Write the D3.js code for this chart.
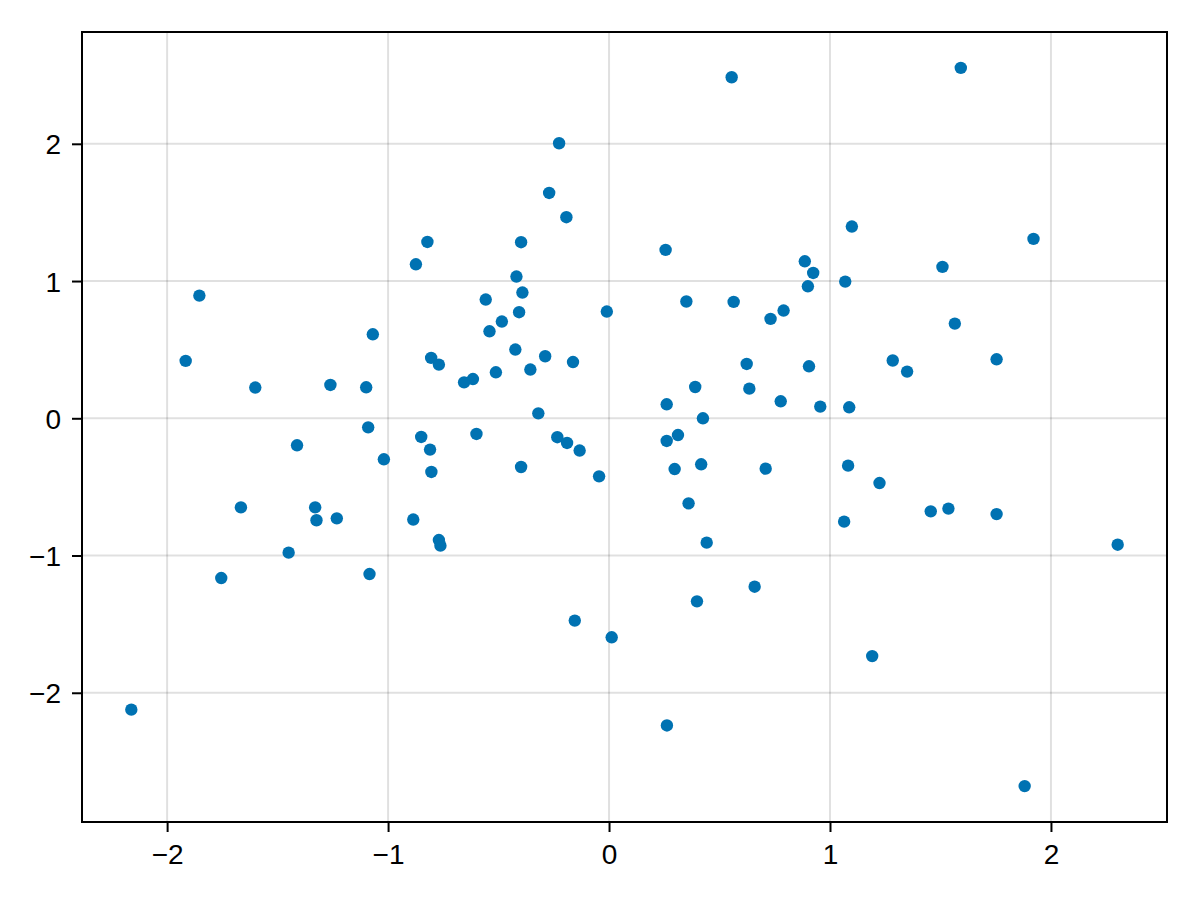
<!DOCTYPE html>
<html>
<head>
<meta charset="utf-8">
<script src="https://cdn.jsdelivr.net/npm/d3@7"></script>
<style>
  html, body { margin: 0; padding: 0; background: #ffffff; }
  svg { display: block; }
</style>
</head>
<body>
<svg id="chart" width="1200" height="900"></svg>
<script>
// ---- data ----
const xValues = [
  -0.822, -0.874, -1.854, -1.069, -1.916, -0.805, -0.770, -1.601, -1.261, -1.099,
  -1.090, 0.555, -0.226, -0.271, -0.193, -0.398, 0.256, 0.886, -0.419, 0.900,
  -0.558, -0.392, 0.350, 0.564, -0.407, -0.010, -0.485, -0.541, 0.731, 0.790,
  -0.424, -0.289, -0.656, -0.616, -0.512, -0.356, -0.163, 0.623, 0.905, -0.320,
  0.261, 0.390, 0.635, 0.777, 0.425, 1.592, 1.099, 1.921, 1.509, 0.924,
  1.069, 1.565, 1.284, 1.349, 1.754, 0.956, 1.087, -1.412, -0.850, -0.810,
  -1.019, -0.804, -1.666, -1.330, -1.324, -1.232, -0.886, -0.770, -0.763, -1.450,
  -1.755, -1.084, -2.162, -0.600, -0.234, -0.190, -0.133, -0.398, -0.045, 0.261,
  0.312, 0.297, 0.417, 0.709, 0.360, 0.442, 0.659, 0.398, -0.155, 0.012,
  0.262, 1.082, 1.224, 1.064, 1.456, 1.536, 1.754, 2.302, 1.191, 1.881
];
const yValues = [
  1.285, 1.122, 0.894, 0.612, 0.418, 0.440, 0.391, 0.224, 0.243, 0.226,
  -0.066, 2.485, 2.004, 1.642, 1.465, 1.283, 1.227, 1.144, 1.033, 0.962,
  0.865, 0.916, 0.851, 0.848, 0.773, 0.778, 0.705, 0.634, 0.724, 0.785,
  0.501, 0.452, 0.262, 0.286, 0.335, 0.355, 0.410, 0.396, 0.379, 0.036,
  0.102, 0.228, 0.216, 0.124, 0.000, 2.553, 1.397, 1.307, 1.103, 1.059,
  0.996, 0.690, 0.421, 0.340, 0.430, 0.085, 0.080, -0.197, -0.136, -0.228,
  -0.299, -0.391, -0.649, -0.649, -0.743, -0.729, -0.738, -0.887, -0.928, -0.979,
  -1.164, -1.135, -2.123, -0.114, -0.138, -0.180, -0.235, -0.355, -0.423, -0.165,
  -0.122, -0.370, -0.335, -0.367, -0.620, -0.906, -1.227, -1.334, -1.474, -1.596,
  -2.238, -0.345, -0.472, -0.753, -0.678, -0.658, -0.698, -0.921, -1.733, -2.680
];
const xTicks = [-2, -1, 0, 1, 2];
const yTicks = [-2, -1, 0, 1, 2];

const points = xValues.map((x, i) => ({ x, y: yValues[i] }));

// ---- layout ----
const plotLeft = 82, plotRight = 1167, plotTop = 32, plotBottom = 822;
const markerColor = "#0072b2";
const fontFamily = "'Liberation Sans', Arial, 'DejaVu Sans', sans-serif";
const fontSize = 28;

function padded(ext, frac) {
  const span = ext[1] - ext[0];
  return [ext[0] - span * frac, ext[1] + span * frac];
}

const xScale = d3.scaleLinear().domain(padded(d3.extent(xValues), 0.05)).range([plotLeft, plotRight]);
const yScale = d3.scaleLinear().domain(padded(d3.extent(yValues), 0.05)).range([plotBottom, plotTop]);

const svg = d3.select("#chart");
svg.append("rect").attr("width", 1200).attr("height", 900).attr("fill", "#ffffff");

const fmt = d => (d < 0 ? "\u2212" + Math.abs(d) : String(d));

// grid
const grid = svg.append("g").attr("class", "grid");
grid.selectAll("line.vx").data(xTicks).join("line").attr("class", "vx")
  .attr("x1", d => xScale(d)).attr("x2", d => xScale(d))
  .attr("y1", plotTop).attr("y2", plotBottom)
  .attr("stroke", "#000").attr("stroke-opacity", 0.12).attr("stroke-width", 2);
grid.selectAll("line.hy").data(yTicks).join("line").attr("class", "hy")
  .attr("y1", d => yScale(d)).attr("y2", d => yScale(d))
  .attr("x1", plotLeft).attr("x2", plotRight)
  .attr("stroke", "#000").attr("stroke-opacity", 0.12).attr("stroke-width", 2);

// points
svg.append("g").selectAll("circle").data(points).join("circle")
  .attr("cx", d => xScale(d.x))
  .attr("cy", d => yScale(d.y))
  .attr("r", 6.2)
  .attr("fill", markerColor);

// frame
svg.append("rect")
  .attr("x", plotLeft).attr("y", plotTop)
  .attr("width", plotRight - plotLeft).attr("height", plotBottom - plotTop)
  .attr("fill", "none").attr("stroke", "#000").attr("stroke-width", 2);

// axes
const xAxis = svg.append("g")
  .attr("transform", `translate(0,${plotBottom})`)
  .call(d3.axisBottom(xScale).tickValues(xTicks).tickFormat(fmt).tickSize(10).tickPadding(12).tickSizeOuter(0));
const yAxis = svg.append("g")
  .attr("transform", `translate(${plotLeft},0)`)
  .call(d3.axisLeft(yScale).tickValues(yTicks).tickFormat(fmt).tickSize(10).tickPadding(11).tickSizeOuter(0));

[xAxis, yAxis].forEach(g => {
  g.select(".domain").remove();
  g.selectAll(".tick line").attr("stroke", "#000").attr("stroke-width", 2);
  g.selectAll(".tick text")
    .attr("fill", "#000")
    .style("font-family", fontFamily)
    .style("font-size", fontSize + "px");
});
yAxis.selectAll(".tick text").attr("dy", "0.36em");
</script>
</body>
</html>
